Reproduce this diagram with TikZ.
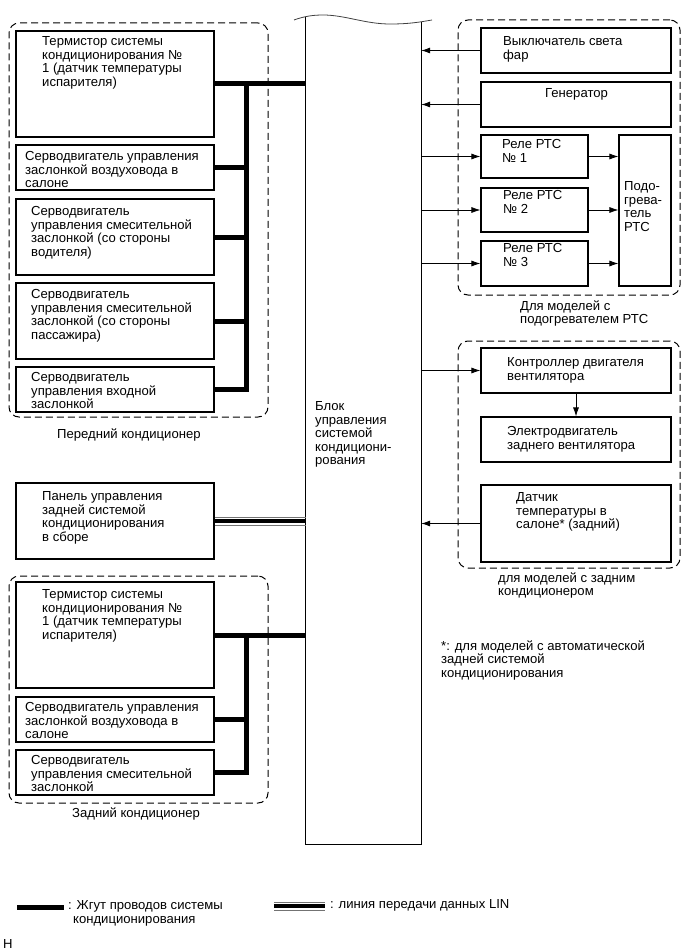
\documentclass[tikz,border=0pt]{standalone}
\usepackage{fontspec}
\setmainfont{Liberation Sans}
\usetikzlibrary{arrows.meta,fit}
\newcommand\fs{\fontsize{13.1}{13.5}\selectfont}
\begin{document}
\begin{tikzpicture}[x=1pt,y=-1pt,
  box/.style={draw, line width=1.1pt, inner sep=0pt},
  area/.style={draw, line width=1pt, dash pattern=on 7pt off 4pt, rounded corners=10pt, inner sep=0pt},
  txt/.style={anchor=north west, inner sep=0pt, align=left, font=\fs},
  harness/.style={line width=5pt},
  sig/.style={line width=0.8pt, -{Latex[length=9pt,width=6pt]}},
  linbus/.style={line width=4pt},
  linside/.style={line width=0.8pt, black!55}]
\useasboundingbox (0,0) rectangle (691,952);

% central block
\node[inner sep=0pt, fit={(306,17) (421,844)}] (blk) {};
\draw[line width=1.1pt] (blk.north west) -- (blk.south west) -- (blk.south east) -- ([yshift=-5pt]blk.north east);
\draw[line width=0.8pt, black!75] (294,20) .. controls (305,16) and (314,15) .. (323,15)
  .. controls (345,15) and (365,24) .. (390,24) .. controls (410,24) and (420,22) .. (432,20);
\node[txt] (blkt) at (315,401.5) {Блок\\управления\\системой\\кондициони-\\рования};

% front air conditioner group
\node[area, fit={(9,23) (268,417)}] (gf) {};
\node[box, fit={(16,31) (214,137)}] (f1) {};
\node[box, fit={(16,145) (214,190)}] (f2) {};
\node[box, fit={(16,199) (214,275)}] (f3) {};
\node[box, fit={(16,283) (214,359)}] (f4) {};
\node[box, fit={(16,367) (214,412)}] (f5) {};
\node[txt] (f1t) at (42,36.5) {Термистор системы\\кондиционирования №\\1 (датчик температуры\\испарителя)};
\node[txt] (f2t) at (25,151.5) {Серводвигатель управления\\заслонкой воздуховода в\\салоне};
\node[txt] (f3t) at (31,206.5) {Серводвигатель\\управления смесительной\\заслонкой (со стороны\\водителя)};
\node[txt] (f4t) at (31,289.5) {Серводвигатель\\управления смесительной\\заслонкой (со стороны\\пассажира)};
\node[txt] (f5t) at (31,372.5) {Серводвигатель\\управления входной\\заслонкой};
\node[txt] (gft) at (57,428.5) {Передний кондиционер};
\coordinate (fj) at (246,84);
\draw[harness] (f1.east) -- (f1.east -| blk.west);
\draw[harness] (f2.east) -- (f2.east -| fj);
\draw[harness] (f3.east) -- (f3.east -| fj);
\draw[harness] (f4.east) -- (f4.east -| fj);
\draw[harness] (f5.east) -| (fj);

% LIN panel
\node[box, fit={(16,483) (214,559)}] (lp) {};
\node[txt] (lpt) at (42,491.5) {Панель управления\\задней системой\\кондиционирования\\в сборе};
\draw[linbus] (lp.east) -- (lp.east -| blk.west);
\draw[linside] ([yshift=4pt]lp.east) -- ([yshift=4pt]lp.east -| blk.west);
\draw[linside] ([yshift=-4pt]lp.east) -- ([yshift=-4pt]lp.east -| blk.west);

% rear air conditioner group
\node[area, fit={(9,576) (268,803)}] (gr) {};
\node[box, fit={(16,582) (214,688)}] (r1) {};
\node[box, fit={(16,697) (214,742)}] (r2) {};
\node[box, fit={(16,750) (214,795)}] (r3) {};
\node[txt] (r1t) at (42,589.5) {Термистор системы\\кондиционирования №\\1 (датчик температуры\\испарителя)};
\node[txt] (r2t) at (25,702.5) {Серводвигатель управления\\заслонкой воздуховода в\\салоне};
\node[txt] (r3t) at (31,755.5) {Серводвигатель\\управления смесительной\\заслонкой};
\node[txt] (grt) at (72,807.5) {Задний кондиционер};
\coordinate (rj) at (246,635);
\draw[harness] (r1.east) -- (r1.east -| blk.west);
\draw[harness] (r2.east) -- (r2.east -| rj);
\draw[harness] (r3.east) -| (rj);

% PTC group
\node[area, fit={(458,20) (680,295)}] (gp) {};
\node[box, fit={(481,28) (671,73)}] (s1) {};
\node[box, fit={(481,82) (671,127)}] (s2) {};
\node[box, fit={(481,135) (588,178)}] (p1) {};
\node[box, fit={(481,188) (588,232)}] (p2) {};
\node[box, fit={(481,241) (588,286)}] (p3) {};
\node[box, fit={(619,135) (671,286)}] (ht) {};
\node[txt] (s1t) at (503,36.5) {Выключатель света\\фар};
\node[txt] (s2t) at (545,88.5) {Генератор};
\node[txt] (p1t) at (502,139.5) {Реле РТС\\№ 1};
\node[txt] (p2t) at (503,190.5) {Реле РТС\\№ 2};
\node[txt] (p3t) at (503,243.5) {Реле РТС\\№ 3};
\node[txt] (htt) at (624,181.5) {Подо-\\грева-\\тель\\РТС};
\node[txt] (gpt) at (520,300.5) {Для моделей с\\подогревателем РТС};
\draw[sig] (s1.west) -- (s1.west -| blk.east);
\draw[sig] (s2.west) -- (s2.west -| blk.east);
\draw[sig] (p1.west -| blk.east) -- (p1.west);
\draw[sig] (p2.west -| blk.east) -- (p2.west);
\draw[sig] (p3.west -| blk.east) -- (p3.west);
\draw[sig] (p1.east) -- (p1.east -| ht.west);
\draw[sig] (p2.east) -- (p2.east -| ht.west);
\draw[sig] (p3.east) -- (p3.east -| ht.west);

% rear AC models group
\node[area, fit={(458,341) (680,568)}] (gb) {};
\node[box, fit={(481,348) (671,393)}] (c1) {};
\node[box, fit={(481,417) (671,462)}] (c2) {};
\node[box, fit={(481,485) (671,562)}] (c3) {};
\node[txt] (c1t) at (507,357.5) {Контроллер двигателя\\вентилятора};
\node[txt] (c2t) at (507,426.5) {Электродвигатель\\заднего вентилятора};
\node[txt] (c3t) at (516,492.5) {Датчик\\температуры в\\салоне* (задний)};
\node[txt] (gbt) at (498,572.5) {для моделей с задним\\кондиционером};
\draw[sig] (c1.west -| blk.east) -- (c1.west);
\draw[sig] (c1.south) -- (c2.north);
\draw[sig] (c3.west) -- (c3.west -| blk.east);

% footnote
\node[txt] (fn) at (441,640.5) {*: для моделей с автоматической\\задней системой\\кондиционирования};

% legend
\draw[harness] (17,907) -- (64,907);
\node[txt] (lg1) at (68,900.5) {: Жгут проводов системы\\\hspace*{5pt}кондиционирования};
\draw[linbus] (274,906) -- (325,906);
\draw[linside] (274,902) -- (325,902);
\draw[linside] (274,910) -- (325,910);
\node[txt] (lg2) at (330,899.5) {: линия передачи данных LIN};
\node[txt] (hh) at (3,939.5) {Н};
\end{tikzpicture}
\end{document}
